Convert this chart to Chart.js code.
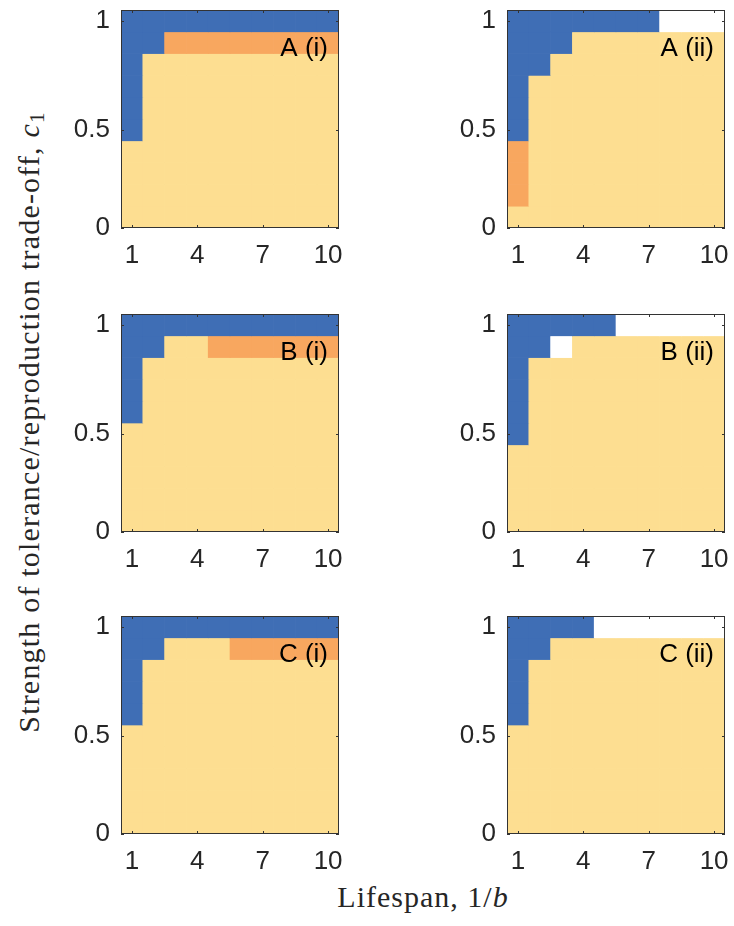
<!DOCTYPE html>
<html><head><meta charset="utf-8">
<script src="https://cdn.jsdelivr.net/npm/chart.js@4/dist/chart.umd.min.js"></script>
<style>
html,body{margin:0;padding:0;background:#fff;width:734px;height:926px;overflow:hidden;position:relative;}
canvas{position:absolute;}
.ttl{position:absolute;font-family:"Liberation Serif",serif;font-size:30px;line-height:1;color:#262626;white-space:nowrap;text-align:center;}
.ttl sub{font-size:0.7em;vertical-align:-0.25em;line-height:0;}
</style></head><body>
<div id="ytitle" class="ttl">Strength of tolerance/reproduction trade-off, <i>c</i><sub>1</sub></div>
<div id="xtitle" class="ttl">Lifespan, 1/<i>b</i></div>
<script>
// ---- data ----
const lifespan = [1, 2, 3, 4, 5, 6, 7, 8, 9, 10];
const c1Values = [1.0, 0.9, 0.8, 0.7, 0.6, 0.5, 0.4, 0.3, 0.2, 0.1];
const xTickValues = [1, 4, 7, 10];
const yTickValues = [0.05, 0.5, 1];
const yTickLabels = ['0', '0.5', '1'];
const panelNames = ['A (i)', 'A (ii)', 'B (i)', 'B (ii)', 'C (i)', 'C (ii)'];
// outcome codes per cell, rows follow c1Values (top row = 1.0), columns follow lifespan
const outcomeAi = ['BBBBBBBBBB','BBOOOOOOOO','BYYYYYYYYY','BYYYYYYYYY','BYYYYYYYYY','BYYYYYYYYY','YYYYYYYYYY','YYYYYYYYYY','YYYYYYYYYY','YYYYYYYYYY'];
const outcomeAii = ['BBBBBBBWWW','BBBYYYYYYY','BBYYYYYYYY','BYYYYYYYYY','BYYYYYYYYY','BYYYYYYYYY','OYYYYYYYYY','OYYYYYYYYY','OYYYYYYYYY','YYYYYYYYYY'];
const outcomeBi = ['BBBBBBBBBB','BBYYOOOOOO','BYYYYYYYYY','BYYYYYYYYY','BYYYYYYYYY','YYYYYYYYYY','YYYYYYYYYY','YYYYYYYYYY','YYYYYYYYYY','YYYYYYYYYY'];
const outcomeBii = ['BBBBBWWWWW','BBWYYYYYYY','BYYYYYYYYY','BYYYYYYYYY','BYYYYYYYYY','BYYYYYYYYY','YYYYYYYYYY','YYYYYYYYYY','YYYYYYYYYY','YYYYYYYYYY'];
const outcomeCi = ['BBBBBBBBBB','BBYYYOOOOO','BYYYYYYYYY','BYYYYYYYYY','BYYYYYYYYY','YYYYYYYYYY','YYYYYYYYYY','YYYYYYYYYY','YYYYYYYYYY','YYYYYYYYYY'];
const outcomeCii = ['BBBBWWWWWW','BBYYYYYYYY','BYYYYYYYYY','BYYYYYYYYY','BYYYYYYYYY','YYYYYYYYYY','YYYYYYYYYY','YYYYYYYYYY','YYYYYYYYYY','YYYYYYYYYY'];
const panelOutcomes = [outcomeAi, outcomeAii, outcomeBi, outcomeBii, outcomeCi, outcomeCii];

// ---- styles / layout ----
const palette = {B: '#3F6EB5', O: '#F8A75F', Y: '#FDDE91', W: '#FFFFFF'};
const colLefts = [121, 507];
const rowTops = [10, 314, 616];
const panelW = 218, panelH = 218;
const yAxisW = 70, xAxisH = 50, padTop = 10, padRight = 8;
const tickFont = {family: '"Liberation Sans", Arial, sans-serif', size: 26};
const textColor = '#262626';

// titles
const yt = document.getElementById('ytitle');
yt.style.letterSpacing = '1.2px';
yt.style.width = '700px'; yt.style.left = (29 - 350) + 'px'; yt.style.top = (422 - 15) + 'px';
yt.style.transform = 'rotate(-90deg)';
const xt = document.getElementById('xtitle');
xt.style.letterSpacing = '1px';
xt.style.width = '300px'; xt.style.left = (423 - 150) + 'px'; xt.style.top = '882px';

const framePlugin = {
  id: 'frame',
  afterDatasetsDraw(chart, args, opts) {
    const {ctx, chartArea: a, scales: {x, y}} = chart;
    ctx.save();
    ctx.strokeStyle = '#333333';
    ctx.lineWidth = 1;
    ctx.strokeRect(a.left + 0.5, a.top + 0.5, a.width - 1, a.height - 1);
    ctx.beginPath();
    for (const v of xTickValues) {
      const px = Math.round(x.getPixelForValue(v)) + 0.5;
      ctx.moveTo(px, a.bottom); ctx.lineTo(px, a.bottom - 3);
      ctx.moveTo(px, a.top); ctx.lineTo(px, a.top + 3);
    }
    for (const v of yTickValues) {
      const py = Math.round(y.getPixelForValue(v)) + 0.5;
      ctx.moveTo(a.left, py); ctx.lineTo(a.left + 3, py);
      ctx.moveTo(a.right, py); ctx.lineTo(a.right - 3, py);
    }
    ctx.stroke();
    ctx.fillStyle = '#000000';
    ctx.font = '26px "Liberation Sans", Arial, sans-serif';
    ctx.textAlign = 'right';
    ctx.textBaseline = 'middle';
    ctx.fillText(opts.label, a.right - 11, a.top + 39);
    ctx.restore();
  }
};

function zeroPad(s) { s.paddingTop = 0; s.paddingBottom = 0; s.paddingLeft = 0; s.paddingRight = 0; }

panelOutcomes.forEach((grid, p) => {
  const col = p % 2, row = Math.floor(p / 2);
  const cv = document.createElement('canvas');
  const w = yAxisW + panelW + padRight, h = padTop + panelH + xAxisH;
  cv.width = w; cv.height = h;
  cv.style.width = w + 'px'; cv.style.height = h + 'px';
  cv.style.left = (colLefts[col] - yAxisW) + 'px';
  cv.style.top = (rowTops[row] - padTop) + 'px';
  document.body.appendChild(cv);
  new Chart(cv, {
    type: 'bar',
    data: {
      datasets: c1Values.map((c, ri) => ({
        data: lifespan.map(x => ({x: x, y: [c - 0.05, c + 0.05]})),
        backgroundColor: lifespan.map((x, ci) => palette[grid[ri][ci]]),
        borderWidth: 0,
        grouped: false,
        barPercentage: 1,
        categoryPercentage: 1
      }))
    },
    options: {
      responsive: false,
      animation: false,
      devicePixelRatio: 1,
      layout: {padding: {top: padTop, right: padRight, left: 0, bottom: 0}},
      plugins: {legend: {display: false}, tooltip: {enabled: false}, frame: {label: panelNames[p]}},
      scales: {
        x: {
          type: 'linear', min: 0.5, max: 10.5, offset: false,
          grid: {display: false, drawTicks: false}, border: {display: false},
          afterBuildTicks: s => { s.ticks = xTickValues.map(v => ({value: v})); },
          afterFit: s => { s.height = xAxisH; zeroPad(s); },
          ticks: {padding: 12, font: tickFont, color: textColor, maxRotation: 0, autoSkip: false,
                  callback: (v, i) => String(xTickValues[i])}
        },
        y: {
          type: 'linear', min: 0.05, max: 1.05,
          grid: {display: false, drawTicks: false}, border: {display: false},
          afterBuildTicks: s => { s.ticks = yTickValues.map(v => ({value: v})); },
          afterFit: s => { s.width = yAxisW; zeroPad(s); },
          ticks: {padding: 11, font: tickFont, color: textColor, autoSkip: false,
                  callback: (v, i) => yTickLabels[i]}
        }
      }
    },
    plugins: [framePlugin]
  });
});
</script>
</body></html>
